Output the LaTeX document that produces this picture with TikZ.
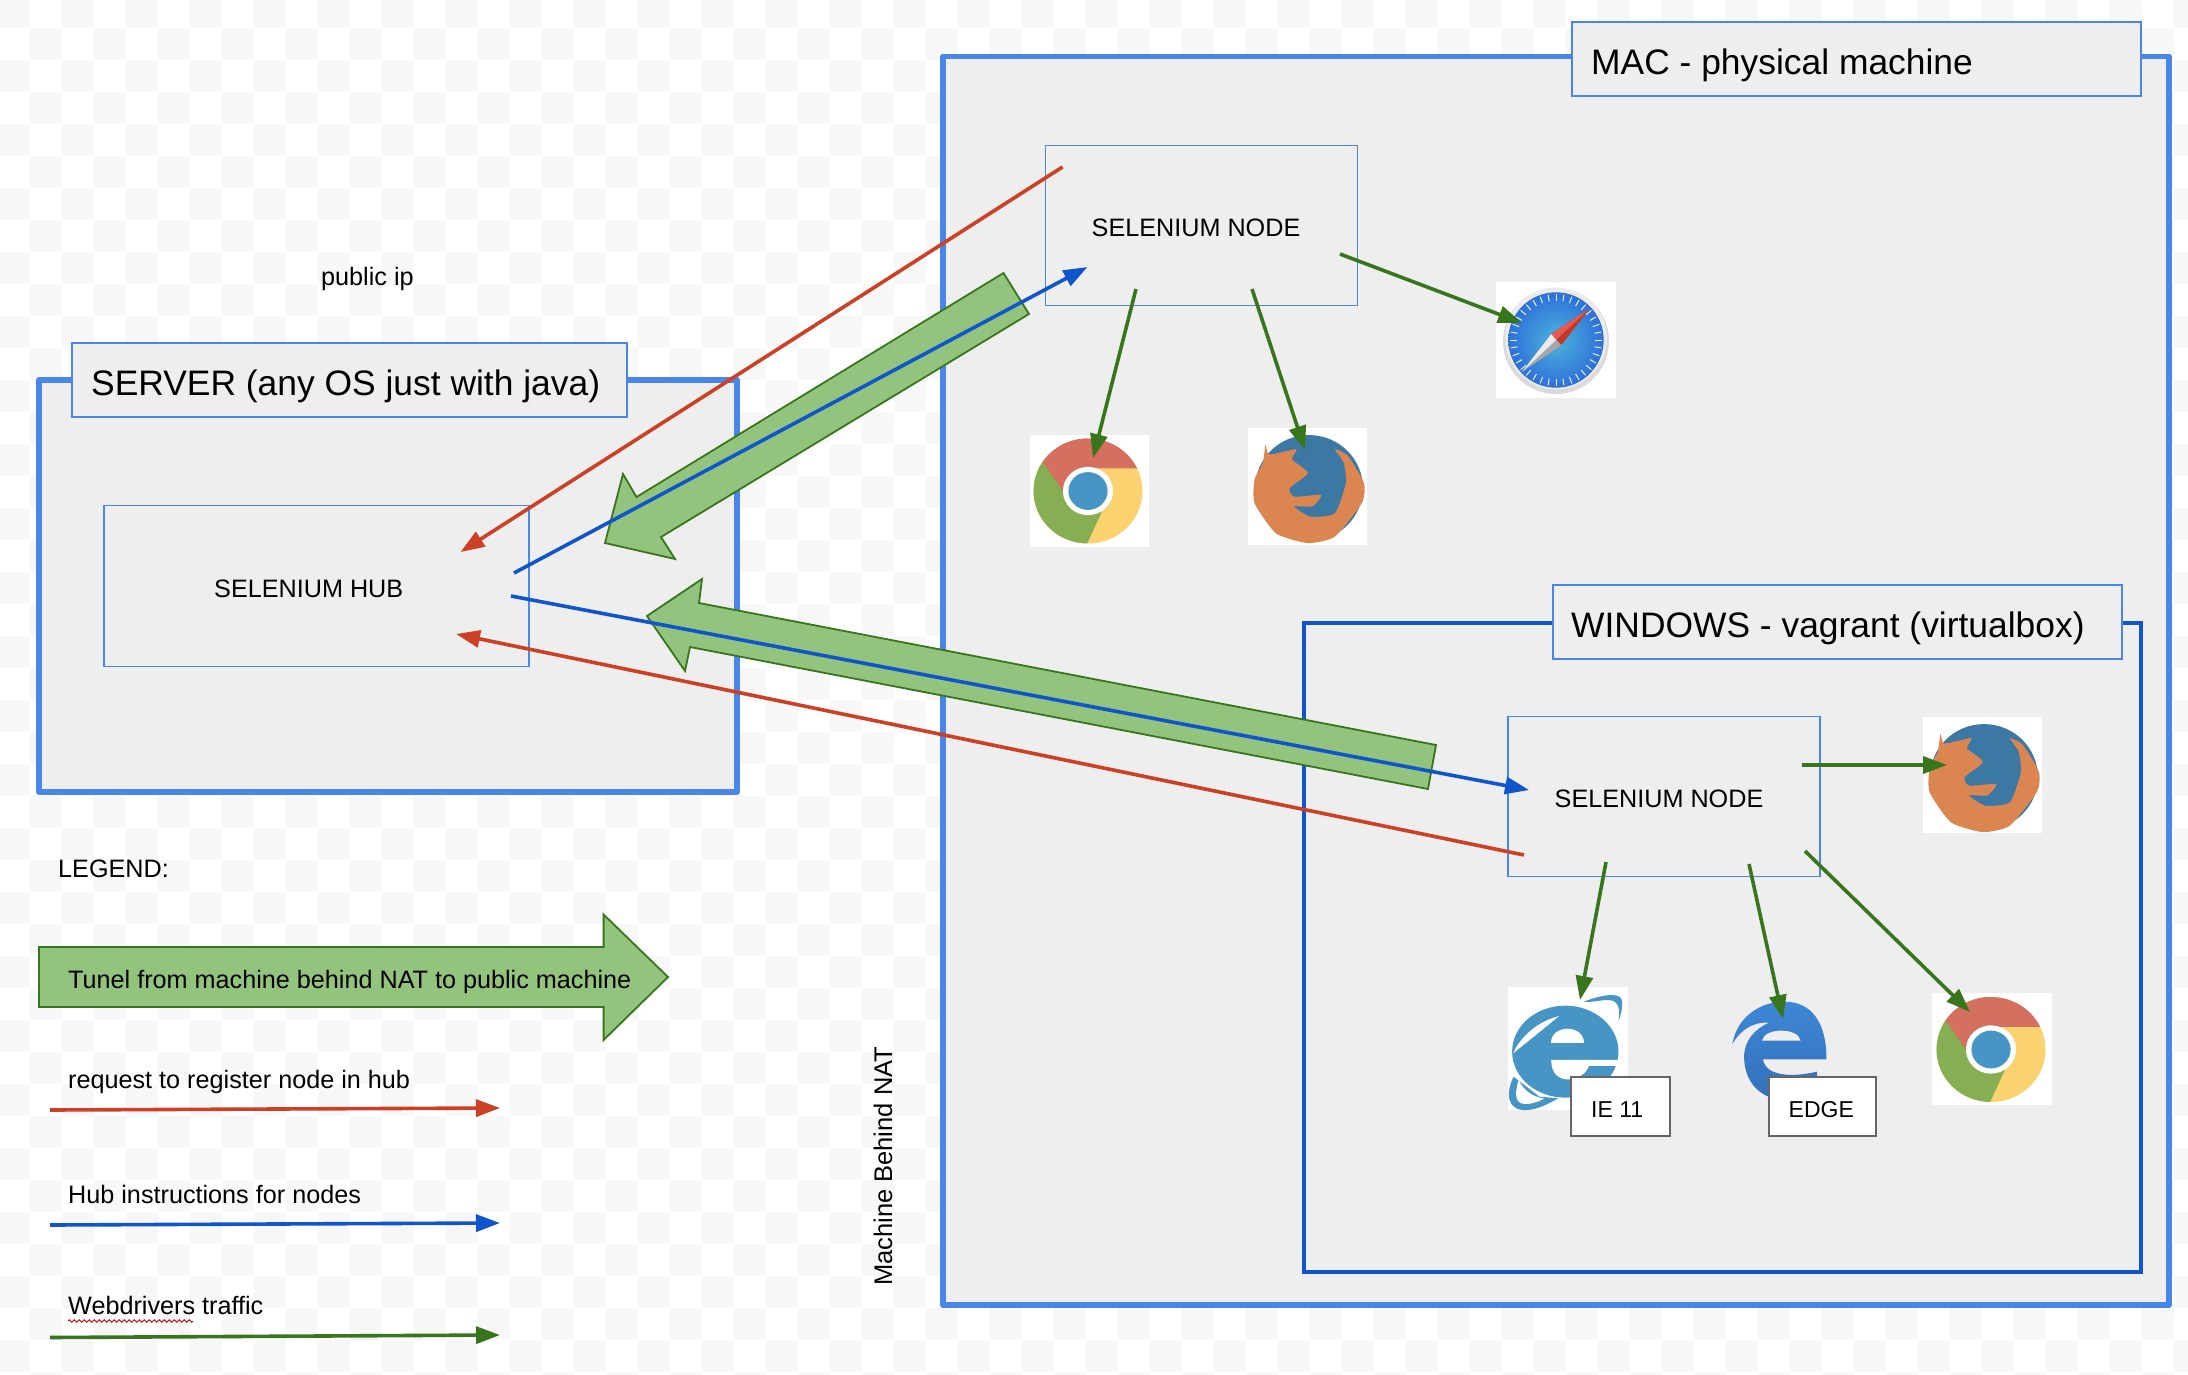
\documentclass[tikz,border=0pt]{standalone}
\usepackage{fontspec}
\setmainfont{Liberation Sans}
\usetikzlibrary{arrows.meta,decorations.pathmorphing}
\definecolor{chk}{HTML}{F7F7F7}
\definecolor{panel}{HTML}{EEEEEE}
\definecolor{lblue}{HTML}{4A86E8}
\definecolor{dblue}{HTML}{1155CC}
\definecolor{dred}{HTML}{CC4125}
\definecolor{dgreen}{HTML}{38761D}
\definecolor{lgreen}{HTML}{93C47D}
\definecolor{chr}{HTML}{D56F60}
\definecolor{chg}{HTML}{85AF52}
\definecolor{chy}{HTML}{FAD26F}
\definecolor{chb}{HTML}{4695C5}
\definecolor{ffb}{HTML}{3B78A4}
\definecolor{ffo}{HTML}{DB8650}
\definecolor{edgetop}{HTML}{3E87D6}
\definecolor{edgebot}{HTML}{3370B8}
\definecolor{safin}{HTML}{4BB4DC}
\definecolor{safout}{HTML}{2F6FD8}
\definecolor{safrim}{HTML}{DADADA}
\definecolor{safa}{HTML}{E8584F}
\definecolor{safb}{HTML}{C0392B}
\newcommand{\ficonchrome}[6]{%
  \fill[white] (#1,#2) rectangle (#3,#4);
  \begin{scope}[shift={(#5,#6)},xscale=54.5,yscale=-52.5]
    \fill[chy] (0,0) circle (1);
    \begin{scope}
      \clip (0,0) circle (1);
      \fill[chr] (-2,.43) -- (0,.43) -- (1.2,.43) -- (1.2,1.3) -- (-1.4,1.3) -- (-1.4,1.0) -- (-.44,-.04) -- (0,.43) -- cycle;
      \fill[chr] (-.95,.72) -- (-.44,-.04) -- (0,.43) -- (0,1.2) -- cycle;
      \fill[chg] (-.82,.54) -- (-.44,-.04) -- (0.25,-.4) -- (-.06,-1.1) -- (-1.3,-1.1) -- (-1.3,.54) -- cycle;
    \end{scope}
    \fill[white] (0,0) circle (.46);
    \fill[chb] (0,0) circle (.36);
  \end{scope}}
\newcommand{\ficonfox}[6]{%
  \fill[white] (#1,#2) rectangle (#3,#4);
  \begin{scope}[shift={(#5,#6)},xscale=55,yscale=-54]
    \fill[ffb] (0,0) circle (.98);
    \fill[ffo] plot[smooth cycle,tension=.35] coordinates {(-.79,.8) (-.72,.62) (-.23,.72) (-.31,.53) (-.02,.28) (-.35,0) (-.27,-.16) (.22,-.13) (.06,-.34) (-.27,-.34) (.02,-.53) (.47,-.47) (.67,.09) (.63,.47) (.47,.72) (.71,.59) (1,.09) (.96,-.28) (.47,-.9) (-.02,-1.02) (-.6,-.84) (-.99,-.28) (-.99,.16) (-.84,.47)};
  \end{scope}}
\tikzset{
  t25/.style={font=\fontsize{25.2}{30}\selectfont,anchor=base west,inner sep=0pt,text=black},
  t23/.style={font=\fontsize{23}{28}\selectfont,anchor=base west,inner sep=0pt,text=black},
  t35/.style={font=\fontsize{35.4}{42}\selectfont,anchor=base west,inner sep=0pt,text=black},
  outerbox/.style={draw=lblue,line width=5.5pt,fill=panel,line join=round},
  winbox/.style={draw=dblue,line width=3.5pt,fill=panel},
  titlebox/.style={draw=lblue,line width=2pt,fill=panel,anchor=north west,inner sep=0pt,outer sep=0pt},
  innerbox/.style={draw=lblue,line width=1.6pt,fill=panel,anchor=north west,inner sep=0pt,outer sep=0pt},
  tagbox/.style={draw=black!60,line width=2pt,fill=white,anchor=north west,inner sep=0pt,outer sep=0pt},
  tunnel/.style={draw=dgreen,line width=1.8pt,fill=lgreen,line join=miter},
  conn/.style={line width=3.6pt,-{Triangle[length=24pt,width=17pt]}},
  reg/.style={conn,draw=dred},
  hubline/.style={conn,draw=dblue},
  web/.style={conn,draw=dgreen},
}
\begin{document}
\begin{tikzpicture}[x=1pt,y=-1pt]
\useasboundingbox (0,0) rectangle (2188,1374);
% checker background
\fill[white] (0,0) rectangle (2188,1374);
\foreach \j in {0,...,21}{\foreach \i in {0,...,34}{
  \fill[chk] ({-2+64*\i},{-4.5+64*\j}) rectangle +(32,32);
  \fill[chk] ({30+64*\i},{27.5+64*\j}) rectangle +(32,32);
}}
% server
\draw[outerbox] (39,380) rectangle (737,792);
\node[titlebox,minimum width=555pt,minimum height=74pt] (srvtitle) at (72,342.5) {};
\node[innerbox,minimum width=425pt,minimum height=161pt] (hub) at (104,505.5) {};
% mac
\draw[outerbox] (943,56.5) rectangle (2169,1305);
\node[titlebox,minimum width=569pt,minimum height=74pt] (mactitle) at (1572,22) {};
\node[innerbox,minimum width=312pt,minimum height=160pt] (node1) at (1045.5,145.5) {};
% windows
\draw[winbox] (1304,623) rectangle (2141,1272);
\node[titlebox,minimum width=569pt,minimum height=74pt] (wintitle) at (1553,584.5) {};
\node[innerbox,minimum width=312pt,minimum height=160pt] (node2) at (1508,716.5) {};
% safari
\fill[white] (1496,282) rectangle (1616,398);
\begin{scope}[shift={(1556,340)},xscale=53,yscale=-53]
  \fill[safrim] (0,-.02) circle (1);
  \fill[white!92!black] (0,.03) circle (.96);
  \shade[inner color=safin,outer color=safout] (0,0) circle (.9);
  \foreach \a in {0,10,...,350}{\draw[white!85!cyan,line width=1pt] (\a:.74) -- (\a:.87);}
  \fill[safb] (.64,.6) -- (-.09,.11) -- (.1,-.1) -- cycle;
  \fill[safa] (.64,.6) -- (-.09,.11) -- (0,0) -- cycle;
  \fill[black!35] (-.64,-.6) -- (.1,-.1) -- (-.09,.11) -- cycle;
  \fill[black!8] (-.64,-.6) -- (0,0) -- (-.09,.11) -- cycle;
\end{scope}
% chrome / firefox
\ficonchrome{1029.5}{435}{1149}{547}{1088}{491}
\ficonfox{1248}{428}{1367}{545}{1309}{488}
\ficonfox{1923}{717}{2042}{833}{1984}{777}
\ficonchrome{1932}{993}{2052}{1105}{1991}{1049.5}
% IE
\begin{scope}[shift={(1450,700)},xscale=.4706,yscale=.3333]
  \fill[white] (124,862) rectangle (378,1230);
  \fill[chb] (245,1055) ellipse [x radius=113,y radius=138];
  \fill[white] (215,1028) .. controls (215,972) and (285,972) .. (285,1028) -- cycle;
  \fill[white] (215,1080) -- (362,1080) -- (362,1098) -- (295,1098) .. controls (285,1145) and (215,1165) .. (215,1080) -- cycle;
  \fill[white] (232,948) .. controls (185,965) and (150,1010) .. (134,1060) .. controls (165,1025) and (200,985) .. (232,948) -- cycle;
  \fill[chb] (285,905) .. controls (320,885) and (360,875) .. (365,900) .. controls (368,925) and (362,945) .. (358,965) .. controls (362,930) and (360,900) .. (335,900) .. controls (320,900) and (300,908) .. (285,905) -- cycle;
  \fill[chb] (135,1130) .. controls (118,1180) and (120,1235) .. (165,1230) .. controls (185,1228) and (205,1215) .. (230,1195) -- (190,1190) -- cycle;
  \fill[white] (146,1140) .. controls (135,1190) and (140,1215) .. (165,1212) .. controls (178,1210) and (190,1204) .. (200,1196) .. controls (175,1190) and (155,1170) .. (146,1140) -- cycle;
\end{scope}
% Edge
\begin{scope}[shift={(1450,700)},xscale=.4706,yscale=.3333]
  \path[top color=edgetop,bottom color=edgebot] (600,1032) .. controls (610,950) and (660,905) .. (710,905) .. controls (770,905) and (800,970) .. (800,1078) -- (665,1078) .. controls (670,1125) and (720,1135) .. (780,1115) -- (780,1200) -- (680,1192) .. controls (640,1170) and (625,1120) .. (625,1070) .. controls (625,1020) and (650,985) .. (678,968) .. controls (640,965) and (615,995) .. (600,1032) -- cycle;
  \fill[panel] (663,1022) .. controls (668,982) and (740,982) .. (745,1022) -- cycle;
\end{scope}
% tags
\node[tagbox,minimum width=99pt,minimum height=59pt] (ietag) at (1571,1076.5) {};
\node[tagbox,minimum width=107pt,minimum height=59pt] (edgetag) at (1769,1076.5) {};
% tunnels
\draw[tunnel] (1003.5,273) -- (636.5,497) -- (623,474) -- (605,543) -- (675,559) -- (661,537) -- (1029,314) -- cycle;
\draw[tunnel] (1436,745) -- (699,603) -- (702,579) -- (647,616) -- (685,671) -- (690,647) -- (1428,789) -- cycle;
% connector ends
\coordinate (r1a) at (1062.5,167); \coordinate (r1b) at (460.5,552);
\coordinate (b1a) at (514,573); \coordinate (b1b) at (1087.5,267);
\coordinate (b2a) at (511,596); \coordinate (b2b) at (1529,790);
\coordinate (r2a) at (1524,855); \coordinate (r2b) at (456,634);
\draw[reg] (r1a) -- (r1b);
\draw[hubline] (b1a) -- (b1b);
\draw[hubline] (b2a) -- (b2b);
\draw[reg] (r2a) -- (r2b);
\coordinate (ga1) at (1340,254); \coordinate (gb1) at (1522,323);
\coordinate (ga2) at (1136,289); \coordinate (gb2) at (1093,458);
\coordinate (ga3) at (1252,289); \coordinate (gb3) at (1305,450);
\coordinate (ga4) at (1802,765); \coordinate (gb4) at (1947,765);
\coordinate (ga5) at (1606,862); \coordinate (gb5) at (1580,1000);
\coordinate (ga6) at (1749,864); \coordinate (gb6) at (1783,1019);
\coordinate (ga7) at (1805,851); \coordinate (gb7) at (1970,1012);
\foreach \k in {1,...,7}{\draw[web] (ga\k) -- (gb\k);}
% labels
\node[t35] (tsrv) at (91,395) {SERVER (any OS just with java)};
\node[t35] (tmac) at (1591,74) {MAC - physical machine};
\node[t35] (twin) at (1571,637) {WINDOWS - vagrant (virtualbox)};
\node[t25] (thub) at (214,597) {SELENIUM HUB};
\node[t25] (tn1) at (1091.5,236) {SELENIUM NODE};
\node[t25] (tn2) at (1554.5,807) {SELENIUM NODE};
\node[t23] (tie) at (1591,1117) {IE 11};
\node[t23] (ted) at (1788.5,1117) {EDGE};
\node[t25] (tip) at (321,285) {public ip};
\node[t25,rotate=90,font=\fontsize{25.5}{30}\selectfont] (tnat) at (892,1286) {Machine Behind NAT};
% legend
\node[t25] (tleg) at (58,877.5) {LEGEND:};
\draw[tunnel] (39,947) -- (603.6,947) -- (603.6,914.5) -- (668,977) -- (603.6,1040) -- (603.6,1007) -- (39,1007) -- cycle;
\node[t25] (ttun) at (68,988) {Tunel from machine behind NAT to public machine};
\node[t25] (treg) at (68,1088) {request to register node in hub};
\coordinate (l1a) at (50,1110); \coordinate (l1b) at (500,1108);
\draw[reg] (l1a) -- (l1b);
\node[t25] (thi) at (68,1203) {Hub instructions for nodes};
\coordinate (l2a) at (50,1225); \coordinate (l2b) at (500,1223);
\draw[hubline] (l2a) -- (l2b);
\node[t25] (twd) at (68,1314.5) {Webdrivers traffic};
\coordinate (wa) at (68,1321); \coordinate (wb) at (193,1321);
\draw[red!80!black,line width=.9pt,decorate,decoration={zigzag,segment length=5pt,amplitude=1.3pt}] (wa) -- (wb);
\coordinate (l3a) at (50,1337.5); \coordinate (l3b) at (500,1335);
\draw[web] (l3a) -- (l3b);
\end{tikzpicture}
\end{document}
